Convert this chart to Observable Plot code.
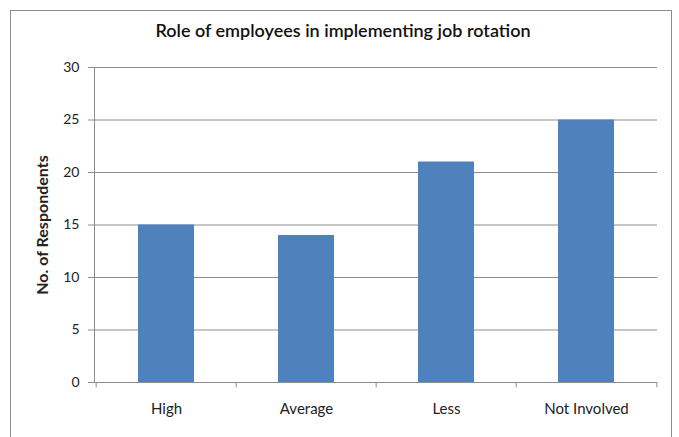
<!DOCTYPE html>
<html>
<head>
<meta charset="utf-8">
<script src="https://cdn.jsdelivr.net/npm/d3@7"></script>
<script src="https://cdn.jsdelivr.net/npm/@observablehq/plot@0.6"></script>
<style>
  html, body { margin: 0; padding: 0; background: #fff; }
  #wrap { position: relative; width: 679px; height: 437px; overflow: hidden; background: #fff; }
  #frame { position: absolute; left: 10px; top: 10px; width: 662px; height: 460px; border: 1.5px solid #8c8c8c; box-sizing: border-box; }
  #chart { position: absolute; left: 0; top: 0; }
</style>
</head>
<body>
<div id="wrap">
  <div id="frame"></div>
  <div id="chart"></div>
</div>
<script>
const title = "Role of employees in implementing job rotation";
const yLabel = "No. of Respondents";
const categories = ["High", "Average", "Less", "Not Involved"];
const respondents = [15, 14, 21, 25];
const yTicks = [0, 5, 10, 15, 20, 25, 30];

const data = categories.map((c, i) => ({category: c, value: respondents[i]}));
const font = "Lato, 'Open Sans', sans-serif";

const W = 679, H = 437, ML = 94, MR = 22, MT = 67, MB = 55;
const step = (W - ML - MR) / categories.length;

const chart = Plot.plot({
  width: W,
  height: H,
  marginLeft: ML,
  marginRight: MR,
  marginTop: MT,
  marginBottom: MB,
  style: {fontFamily: font, fontSize: "14px", color: "#222", background: "transparent", overflow: "visible"},
  x: {domain: categories, paddingInner: 0.6, paddingOuter: 0.3, align: 0.5, label: null},
  y: {domain: [0, 30]},
  marks: [
    Plot.gridY(yTicks, {stroke: "#8c8c8c", strokeOpacity: 1, strokeWidth: 1}),
    Plot.barY(data, {x: "category", y: "value", fill: "#4F81BD"}),
    Plot.ruleY([0], {stroke: "#8c8c8c", strokeWidth: 1}),
    Plot.frame({anchor: "left", stroke: "#8c8c8c"}),
    // category boundary ticks below the axis
    Plot.ruleX(categories, {x: d => d, dx: -step / 2, y1: 0, y2: -0.5, stroke: "#8c8c8c", clip: false}),
    Plot.ruleX([categories[categories.length - 1]], {x: d => d, dx: step / 2, y1: 0, y2: -0.5, stroke: "#8c8c8c", clip: false}),
    Plot.axisY({ticks: yTicks, tickSize: 6, tickPadding: 9, stroke: "#8c8c8c", fontSize: 14,
      label: yLabel, labelAnchor: "center", labelArrow: "none", labelOffset: 58}),
    Plot.axisX({tickSize: 0, tickPadding: 21, fontSize: 15, label: null}),
    Plot.text([title], {frameAnchor: "top", dy: -43, dx: -33, fontSize: 18, fontWeight: "600", fill: "#111"})
  ]
});
document.getElementById("chart").appendChild(chart);

d3.select(chart).selectAll("[aria-label='y-axis label'], [aria-label='y-axis label'] text")
  .attr("font-weight", "bold").attr("font-size", 16);
</script>
</body>
</html>
